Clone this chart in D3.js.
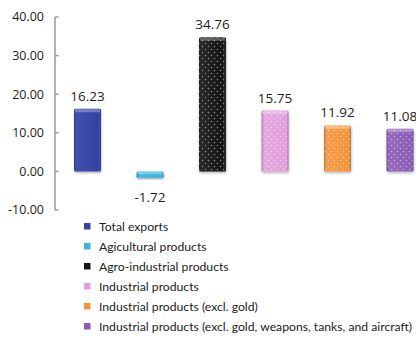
<!DOCTYPE html>
<html>
<head>
<meta charset="utf-8">
<script src="https://cdn.jsdelivr.net/npm/d3@7/dist/d3.min.js"></script>
<style>
  body { margin: 0; background: #fff; }
  svg { display: block; }
</style>
</head>
<body>
<svg id="chart" width="416" height="338"></svg>
<script>
var categories = [
  'Total exports',
  'Agicultural products',
  'Agro-industrial products',
  'Industrial products',
  'Industrial products (excl. gold)',
  'Industrial products (excl. gold, weapons, tanks, and aircraft)'
]
var values = [16.23, -1.72, 34.76, 15.75, 11.92, 11.08]
var colors = ['#3340a6', '#3cb4e2', '#141414', '#e29fdc', '#f5943a', '#8a5db8']
var dotted = [false, false, true, true, true, true]
var yTicks = [-10, 0, 10, 20, 30, 40]

var svg = d3.select('#chart')

// plain hyphen for negatives, like the original
var fmt = function(v) { return d3.format('.2f')(v).replace('\u2212', '-') }

var x = d3.scaleBand()
  .domain(categories)
  .range([56.25, 431.25])
  .paddingInner(0.57)
  .paddingOuter(0.285)

var y = d3.scaleLinear().domain([-10, 40]).range([210, 17])

var defs = svg.append('defs')

// white dot pattern
var pat = defs.append('pattern')
  .attr('id', 'dots')
  .attr('patternUnits', 'userSpaceOnUse')
  .attr('width', 6).attr('height', 6)
pat.append('circle').attr('cx', 1.5).attr('cy', 1.5).attr('r', 0.8)
  .attr('fill', '#fff').attr('opacity', 0.45)
pat.append('circle').attr('cx', 4.5).attr('cy', 4.5).attr('r', 0.8)
  .attr('fill', '#fff').attr('opacity', 0.45)

// bevel shading
var side = defs.append('linearGradient').attr('id', 'side')
  .attr('x1', 0).attr('x2', 1).attr('y1', 0).attr('y2', 0)
side.append('stop').attr('offset', 0).attr('stop-color', '#000').attr('stop-opacity', 0.25)
side.append('stop').attr('offset', 0.12).attr('stop-color', '#fff').attr('stop-opacity', 0.08)
side.append('stop').attr('offset', 0.88).attr('stop-color', '#fff').attr('stop-opacity', 0.0)
side.append('stop').attr('offset', 1).attr('stop-color', '#000').attr('stop-opacity', 0.3)

var shadow = defs.append('filter').attr('id', 'shadow')
  .attr('x', '-30%').attr('y', '-10%').attr('width', '160%').attr('height', '130%')
shadow.append('feDropShadow').attr('dx', 0.5).attr('dy', 1.5)
  .attr('stdDeviation', 1.2).attr('flood-color', '#000').attr('flood-opacity', 0.3)

// y axis
var axis = svg.append('g').attr('class', 'y-axis')
var axisX = 55
axis.append('line')
  .attr('x1', axisX).attr('x2', axisX)
  .attr('y1', y(40)).attr('y2', y(-10))
  .attr('stroke', '#9a9a9a').attr('stroke-width', 1.5)
axis.selectAll('.tick')
  .data(yTicks)
  .enter().append('line')
  .attr('x1', axisX).attr('x2', axisX + 3.5)
  .attr('y1', d => y(d)).attr('y2', d => y(d))
  .attr('stroke', '#9a9a9a').attr('stroke-width', 1.5)
axis.selectAll('.label')
  .data(yTicks)
  .enter().append('text')
  .attr('x', 44).attr('y', d => y(d))
  .attr('dy', '0.35em')
  .attr('text-anchor', 'end')
  .style('font-family', '"Open Sans", sans-serif')
  .style('font-size', '12.5px')
  .attr('fill', '#222')
  .text(fmt)

// bars
var data = categories.map((c, i) => ({ name: c, value: values[i], color: colors[i], dots: dotted[i] }))
var bars = svg.append('g').attr('class', 'bars')
  .selectAll('g')
  .data(data)
  .enter().append('g')
  .attr('filter', 'url(#shadow)')

function rectY(d) { return Math.min(y(d.value), y(0)) }
function rectH(d) { return Math.abs(y(d.value) - y(0)) }

bars.append('rect')
  .attr('x', d => x(d.name)).attr('y', rectY)
  .attr('width', x.bandwidth()).attr('height', rectH)
  .attr('rx', 1.5)
  .attr('fill', d => d.color)
bars.filter(d => d.dots).append('rect')
  .attr('x', d => x(d.name)).attr('y', rectY)
  .attr('width', x.bandwidth()).attr('height', rectH)
  .attr('fill', 'url(#dots)')
bars.append('rect')
  .attr('x', d => x(d.name)).attr('y', rectY)
  .attr('width', x.bandwidth()).attr('height', rectH)
  .attr('rx', 1.5)
  .attr('fill', 'url(#side)')
// top highlight strip
bars.append('rect')
  .attr('x', d => x(d.name) + 1).attr('y', d => rectY(d) + 0.5)
  .attr('width', x.bandwidth() - 2).attr('height', d => Math.min(3, rectH(d) / 3))
  .attr('fill', '#fff').attr('opacity', 0.3)

// value labels
svg.append('g').attr('class', 'values')
  .selectAll('text')
  .data(data)
  .enter().append('text')
  .attr('x', d => x(d.name) + x.bandwidth() / 2)
  .attr('y', d => d.value >= 0 ? y(d.value) - 8 : y(d.value) + 24)
  .attr('text-anchor', 'middle')
  .style('font-family', '"Open Sans", sans-serif')
  .style('font-size', '13.5px')
  .attr('fill', '#222')
  .text(d => fmt(d.value))

// legend
var legend = svg.append('g').attr('class', 'legend')
  .selectAll('g')
  .data(data)
  .enter().append('g')
  .attr('transform', (d, i) => 'translate(84,' + (227 + i * 20) + ')')
legend.append('rect')
  .attr('x', 0).attr('y', -4).attr('width', 6.5).attr('height', 6.5)
  .attr('fill', d => d.color)
legend.append('text')
  .attr('x', 15).attr('y', 0).attr('dy', '0.35em')
  .style('font-family', 'Lato, sans-serif')
  .style('font-size', '12.2px')
  .attr('fill', '#222')
  .text(d => d.name)
</script>
</body>
</html>
